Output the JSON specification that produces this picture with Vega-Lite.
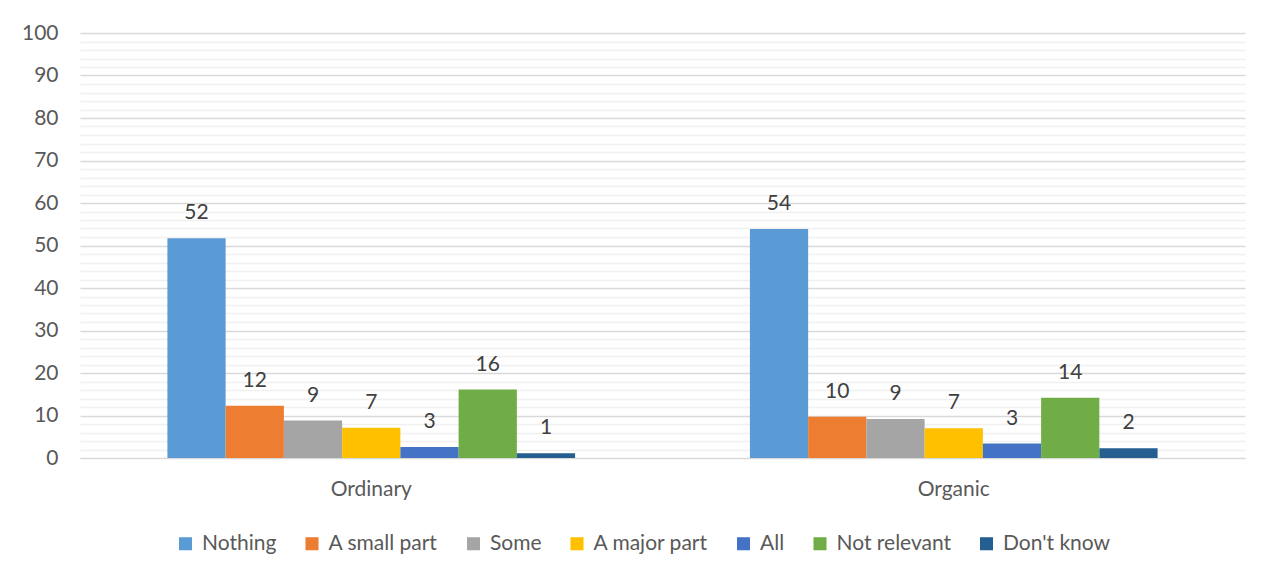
{
  "$schema": "https://vega.github.io/schema/vega-lite/v6.json",
  "autosize": {"type": "none"},
  "width": 1165,
  "height": 425,
  "padding": {"left": 80, "top": 33, "right": 33, "bottom": 120},
  "background": "white",
  "config": {
    "view": {"stroke": null},
    "font": "Lato",
    "text": {"font": "Lato"}
  },
  "data": {
    "values": [
      {"group": "Ordinary", "category": "Nothing", "value": 51.7},
      {"group": "Ordinary", "category": "A small part", "value": 12.3},
      {"group": "Ordinary", "category": "Some", "value": 8.8},
      {"group": "Ordinary", "category": "A major part", "value": 7.1},
      {"group": "Ordinary", "category": "All", "value": 2.6},
      {"group": "Ordinary", "category": "Not relevant", "value": 16.1},
      {"group": "Ordinary", "category": "Don't know", "value": 1.1},
      {"group": "Organic", "category": "Nothing", "value": 53.9},
      {"group": "Organic", "category": "A small part", "value": 9.7},
      {"group": "Organic", "category": "Some", "value": 9.2},
      {"group": "Organic", "category": "A major part", "value": 7.0},
      {"group": "Organic", "category": "All", "value": 3.4},
      {"group": "Organic", "category": "Not relevant", "value": 14.2},
      {"group": "Organic", "category": "Don't know", "value": 2.3}
    ]
  },
  "encoding": {
    "x": {
      "field": "group",
      "type": "nominal",
      "sort": ["Ordinary", "Organic"],
      "scale": {"paddingInner": 0, "paddingOuter": 0},
      "axis": {
        "title": null,
        "labelAngle": 0,
        "ticks": false,
        "domainColor": "#d9d9d9",
        "domainWidth": 1,
        "labelFontSize": 21,
        "labelColor": "#595959",
        "labelPadding": 20,
        "labelFont": "Lato"
      }
    },
    "xOffset": {
      "field": "category",
      "type": "nominal",
      "sort": ["Nothing", "A small part", "Some", "A major part", "All", "Not relevant", "Don't know"],
      "scale": {"paddingInner": 0, "paddingOuter": 0, "range": [87.4, 495.1]}
    },
    "y": {
      "field": "value",
      "type": "quantitative",
      "scale": {"domain": [0, 100], "nice": false},
      "axis": {
        "title": null,
        "values": [0,2,4,6,8,10,12,14,16,18,20,22,24,26,28,30,32,34,36,38,40,42,44,46,48,50,52,54,56,58,60,62,64,66,68,70,72,74,76,78,80,82,84,86,88,90,92,94,96,98,100],
        "labelExpr": "datum.value % 10 === 0 ? datum.label : ''",
        "gridColor": {"condition": {"test": "datum.value % 10 === 0", "value": "#d9d9d9"}, "value": "#f0f0f0"},
        "gridWidth": 1.3,
        "ticks": false,
        "domain": false,
        "labelFontSize": 21,
        "labelColor": "#595959",
        "labelPadding": 22,
        "labelFont": "Lato"
      }
    }
  },
  "layer": [
    {
      "mark": {"type": "bar"},
      "encoding": {
        "color": {
          "field": "category",
          "type": "nominal",
          "scale": {
            "domain": ["Nothing", "A small part", "Some", "A major part", "All", "Not relevant", "Don't know"],
            "range": ["#5B9BD5", "#ED7D31", "#A5A5A5", "#FFC000", "#4472C4", "#70AD47", "#255E91"]
          },
          "legend": {
            "title": null,
            "orient": "none",
            "legendX": 95,
            "legendY": 500,
            "direction": "horizontal",
            "symbolType": "square",
            "symbolSize": 170,
            "symbolStrokeWidth": 0,
            "labelFontSize": 21,
            "labelColor": "#595959",
            "labelFont": "Lato",
            "columnPadding": 24.5,
            "labelOffset": 6
          }
        }
      }
    },
    {
      "mark": {"type": "text", "baseline": "alphabetic", "dy": -19, "fontSize": 21, "color": "#404040", "font": "Lato"},
      "encoding": {
        "text": {"field": "value", "type": "quantitative", "format": ".0f"}
      }
    }
  ]
}
